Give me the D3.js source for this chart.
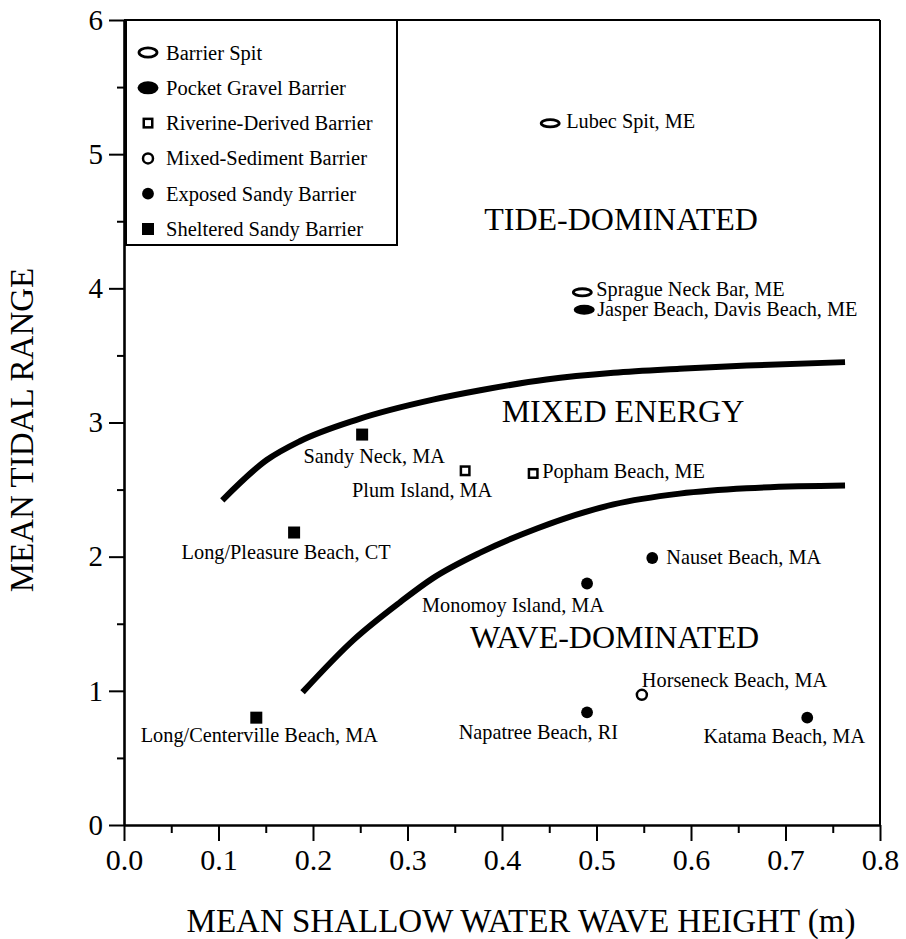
<!DOCTYPE html>
<html>
<head>
<meta charset="utf-8">
<script src="https://cdn.jsdelivr.net/npm/d3@7"></script>
<style>
  body { margin: 0; background: #fff; }
  svg { display: block; }
  text { font-family: "Liberation Serif", "Times New Roman", serif; fill: #000; }
</style>
</head>
<body>
<div id="chart"></div>
<script>
// barrier types (legend order)
const categories = [
  'Barrier Spit',
  'Pocket Gravel Barrier',
  'Riverine-Derived Barrier',
  'Mixed-Sediment Barrier',
  'Exposed Sandy Barrier',
  'Sheltered Sandy Barrier'
];

// sites
const sites = [
  'Lubec Spit, ME', 'Sprague Neck Bar, ME', 'Jasper Beach, Davis Beach, ME',
  'Popham Beach, ME', 'Plum Island, MA', 'Sandy Neck, MA',
  'Long/Pleasure Beach, CT', 'Nauset Beach, MA', 'Monomoy Island, MA',
  'Horseneck Beach, MA', 'Napatree Beach, RI', 'Katama Beach, MA',
  'Long/Centerville Beach, MA'
];
const siteType = [0, 0, 1, 2, 2, 5, 5, 4, 4, 3, 4, 4, 5];
const waveHeight = [0.451, 0.485, 0.487, 0.433, 0.361, 0.252, 0.18, 0.559, 0.49, 0.548, 0.49, 0.723, 0.14];
const tidalRange = [5.23, 3.97, 3.84, 2.62, 2.64, 2.91, 2.18, 1.99, 1.80, 0.97, 0.84, 0.80, 0.80];

// boundary curves
const upperX = [0.104, 0.151, 0.186, 0.246, 0.327, 0.377, 0.447, 0.518, 0.588, 0.659, 0.763];
const upperY = [2.42, 2.72, 2.86, 3.02, 3.17, 3.24, 3.32, 3.37, 3.40, 3.425, 3.45];
const lowerX = [0.189, 0.243, 0.292, 0.327, 0.377, 0.437, 0.518, 0.588, 0.659, 0.763];
const lowerY = [0.99, 1.38, 1.66, 1.84, 2.03, 2.21, 2.39, 2.47, 2.51, 2.53];

// energy regime labels
const regions = ['TIDE-DOMINATED', 'MIXED ENERGY', 'WAVE-DOMINATED'];
const regionX = [0.526, 0.528, 0.519];
const regionY = [4.435, 3.005, 1.318];

const xTicks = [0, 0.1, 0.2, 0.3, 0.4, 0.5, 0.6, 0.7, 0.8];
const yTicks = [0, 1, 2, 3, 4, 5, 6];

// label placement relative to the marker (px), kept apart from the data
const labelDx = [16, 14, 13, 9, -43, 12, -8, 14, 17, 0, 31, -23, 3];
const labelDy = [4.5, 3.5, 6.5, 5, 26, 28, 26, 6, 28, -8, 26.5, 25, 24.5];
const labelAnchor = ['start', 'start', 'start', 'start', 'middle', 'middle', 'middle',
  'start', 'end', 'start', 'end', 'middle', 'middle'];

const width = 906, height = 939;
const mLeft = 124, mRight = 880, mTop = 20, mBottom = 825;

const svg = d3.select('#chart').append('svg')
  .attr('width', width)
  .attr('height', height);

const x = d3.scaleLinear().domain([0, 0.8]).range([mLeft, mRight]);
const y = d3.scaleLinear().domain([0, 6]).range([mBottom, mTop]);

// marker drawing per type: shape, filled, sizes
const markerStyle = [
  { shape: 'ellipse', fill: false, rx: 9, ry: 3.6, sw: 2.8 },
  { shape: 'ellipse', fill: true, rx: 10.5, ry: 5 },
  { shape: 'square', fill: false, s: 8.5, sw: 2.5 },
  { shape: 'circle', fill: false, r: 5, sw: 2.5 },
  { shape: 'circle', fill: true, r: 5.9 },
  { shape: 'square', fill: true, s: 12 }
];

function drawMarker(g, t, cx, cy, k = 1) {
  const st = markerStyle[t];
  let el;
  if (st.shape === 'ellipse') {
    el = g.append('ellipse').attr('cx', cx).attr('cy', cy)
      .attr('rx', st.rx).attr('ry', st.ry * k);
  } else if (st.shape === 'circle') {
    el = g.append('circle').attr('cx', cx).attr('cy', cy).attr('r', st.r);
  } else {
    el = g.append('rect').attr('x', cx - st.s / 2).attr('y', cy - st.s / 2)
      .attr('width', st.s).attr('height', st.s);
  }
  el.attr('fill', st.fill ? '#000' : '#fff')
    .attr('stroke', '#000')
    .attr('stroke-width', st.fill ? 0 : st.sw);
}

// x axis, major + minor ticks
const xAxis = svg.append('g')
  .attr('transform', `translate(0,${mBottom})`)
  .call(d3.axisBottom(x).tickValues(xTicks).tickFormat(d3.format('.1f'))
    .tickSize(16).tickPadding(8).tickSizeOuter(0));
svg.append('g')
  .attr('transform', `translate(0,${mBottom})`)
  .call(d3.axisBottom(x).tickValues(d3.range(8).map(i => i / 10 + 0.05))
    .tickFormat('').tickSize(8).tickSizeOuter(0))
  .call(g => g.select('.domain').remove())
  .selectAll('line').attr('stroke-width', 2);

xAxis.selectAll('text')
  .attr('font-family', '"Liberation Serif", "Times New Roman", serif')
  .attr('font-size', 30);

// y axis
const yAxis = svg.append('g')
  .attr('transform', `translate(${mLeft},0)`)
  .call(d3.axisLeft(y).tickValues(yTicks).tickFormat(d3.format('d'))
    .tickSize(15).tickPadding(6).tickSizeOuter(0));
svg.append('g')
  .attr('transform', `translate(${mLeft},0)`)
  .call(d3.axisLeft(y).tickValues(d3.range(6).map(i => i + 0.5))
    .tickFormat('').tickSize(7).tickSizeOuter(0))
  .call(g => g.select('.domain').remove())
  .selectAll('line').attr('stroke-width', 2);

yAxis.selectAll('text')
  .attr('font-family', '"Liberation Sans", Arial, sans-serif')
  .attr('font-size', 29);

[xAxis, yAxis].forEach(a => {
  a.select('.domain').attr('stroke-width', 2.6);
  a.selectAll('.tick line').attr('stroke-width', 2);
});

// frame top and right
svg.append('line').attr('x1', mLeft).attr('x2', mRight).attr('y1', mTop).attr('y2', mTop)
  .attr('stroke', '#000').attr('stroke-width', 2);
svg.append('line').attr('x1', mRight).attr('x2', mRight).attr('y1', mTop).attr('y2', mBottom)
  .attr('stroke', '#000').attr('stroke-width', 2);

// axis titles
svg.append('text')
  .attr('x', 521).attr('y', 932)
  .attr('text-anchor', 'middle')
  .attr('font-size', 33)
  .text('MEAN SHALLOW WATER WAVE HEIGHT (m)');

svg.append('text')
  .attr('transform', 'translate(33,430) rotate(-90)')
  .attr('text-anchor', 'middle')
  .attr('font-size', 33)
  .text('MEAN TIDAL RANGE');

// boundary curves
const line = d3.line().curve(d3.curveMonotoneX);
svg.append('path')
  .attr('d', line(upperX.map((v, i) => [x(v), y(upperY[i])])))
  .attr('fill', 'none').attr('stroke', '#000').attr('stroke-width', 6);
svg.append('path')
  .attr('d', line(lowerX.map((v, i) => [x(v), y(lowerY[i])])))
  .attr('fill', 'none').attr('stroke', '#000').attr('stroke-width', 6);

// region labels
svg.append('g').selectAll('text')
  .data(regions)
  .join('text')
  .attr('x', (d, i) => x(regionX[i]))
  .attr('y', (d, i) => y(regionY[i]))
  .attr('text-anchor', 'middle')
  .attr('font-size', 32)
  .text(d => d);

// site markers and labels
const pts = svg.append('g');
sites.forEach((name, i) => {
  const cx = x(waveHeight[i]), cy = y(tidalRange[i]);
  drawMarker(pts, siteType[i], cx, cy);
  pts.append('text')
    .attr('x', cx + labelDx[i])
    .attr('y', cy + labelDy[i])
    .attr('text-anchor', labelAnchor[i])
    .attr('font-size', 20.3)
    .text(name);
});

// legend
const legend = svg.append('g');
legend.append('rect')
  .attr('x', 126).attr('y', mTop).attr('width', 271).attr('height', 225)
  .attr('fill', '#fff').attr('stroke', '#000').attr('stroke-width', 2);
categories.forEach((c, i) => {
  const base = 59.5 + i * 35.3;
  drawMarker(legend, i, 148, base - 7, markerStyle[i].shape === 'ellipse' ? 1.3 : 1);
  legend.append('text')
    .attr('x', 166).attr('y', base)
    .attr('font-size', 20.5)
    .text(c);
});
</script>
</body>
</html>
